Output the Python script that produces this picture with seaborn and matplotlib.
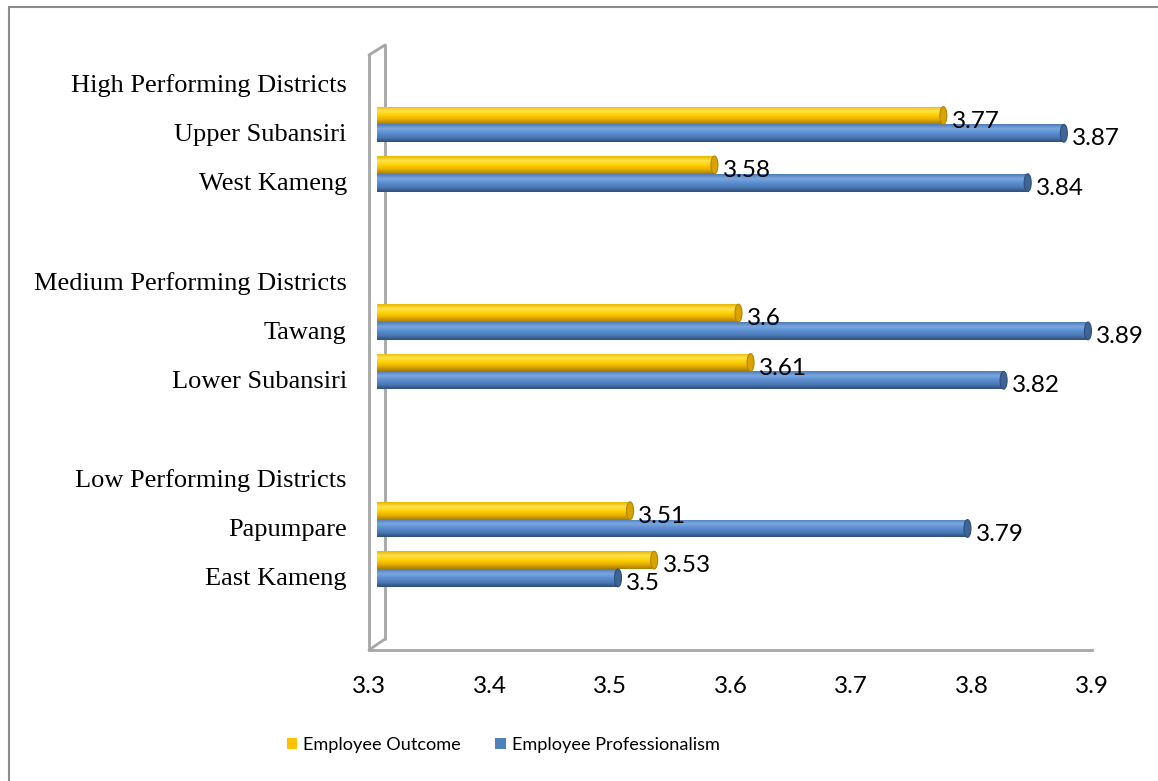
import numpy as np
import pandas as pd
import matplotlib
matplotlib.use("Agg")
import matplotlib.pyplot as plt
import seaborn as sns
from matplotlib.lines import Line2D
from matplotlib.patches import Patch, Ellipse, Rectangle
from matplotlib.colors import LinearSegmentedColormap

# ---------------- data ----------------
categories = ["High Performing Districts", "Upper Subansiri", "West Kameng", " ",
              "Medium Performing Districts", "Tawang", "Lower Subansiri", "  ",
              "Low Performing Districts", "Papumpare", "East Kameng"]
districts = ["Upper Subansiri", "West Kameng", "Tawang", "Lower Subansiri",
             "Papumpare", "East Kameng"]
outcome = [3.77, 3.58, 3.60, 3.61, 3.51, 3.53]
professionalism = [3.87, 3.84, 3.89, 3.82, 3.79, 3.50]
series = ["Employee Outcome", "Employee Professionalism"]
x_ticks = [3.3, 3.4, 3.5, 3.6, 3.7, 3.8, 3.9]

df = pd.DataFrame({
    "District": districts * 2,
    "Series": [series[0]] * len(districts) + [series[1]] * len(districts),
    "Score": outcome + professionalism,
})

# ---------------- style ----------------
sns.set_theme(style="white")
plt.rcParams["font.family"] = ["Lato", "DejaVu Sans"]
plt.rcParams["text.color"] = "black"
plt.rcParams["xtick.color"] = "black"
plt.rcParams["ytick.color"] = "black"

W, H = 1158, 781
fig = plt.figure(figsize=(W / 100, H / 100), dpi=100)

def fx(px):
    return px / W

def fy(py):
    return 1 - py / H

# bar plane axes (mid depth of 3-D plot)
bl, br, bt, bb = 377, 1100, 45, 642
ax = fig.add_axes([fx(bl), fy(bb), fx(br - bl), fy(bt) - fy(bb)])
# front plane axes (carries ticks, floor)
dx, dy = -8, 8
ax2 = fig.add_axes([fx(bl + dx), fy(bb + dy), fx(br - bl), fy(bt) - fy(bb)])
ax2.set_zorder(0)
ax.set_zorder(1)
ax.patch.set_alpha(0)
ax2.patch.set_alpha(0)

yellow = "#FFC000"
blue = "#4F81BD"

sns.barplot(data=df, y="District", x="Score", hue="Series", order=categories,
            hue_order=series, palette=[yellow, blue], orient="h", width=0.72,
            saturation=1, ax=ax, legend=False, errorbar=None)

ylim = ((bb - 75) / 49.4, (bt - 75) / 49.4)
xlim = (3.3, 3.9)
ax.set_xlim(*xlim)
ax.set_ylim(*ylim)

# cylinder shading
cmaps = {
    yellow: LinearSegmentedColormap.from_list("y", ["#E8B400", "#FFE24D", "#FFD200", "#E6AE00", "#A87E00"]),
    blue: LinearSegmentedColormap.from_list("b", ["#4E7CB8", "#7BA7E0", "#5A8DD0", "#4B78B4", "#2F4E7A"]),
}
grad = np.linspace(0, 1, 64).reshape(-1, 1)
bars = [p for p in ax.patches if p.get_width() > 0]
for p in bars:
    fc = matplotlib.colors.to_hex(p.get_facecolor())
    key = yellow if fc.lower() == yellow.lower() else blue
    x0, y0 = p.get_x(), p.get_y()
    w, h = p.get_width(), p.get_height()
    start = max(x0, xlim[0])
    im = ax.imshow(grad, extent=[start, x0 + w, y0 + h, y0], origin="upper",
                   aspect="auto", cmap=cmaps[key], zorder=2, interpolation="bilinear")
    im.set_clip_path(p)
    p.set_edgecolor("none")
    cap_w = (xlim[1] - xlim[0]) / (br - bl) * 7
    edge = "#B08500" if key == yellow else "#2F4E7A"
    capc = "#D9A400" if key == yellow else "#3F6597"
    ax.add_patch(Ellipse((x0 + w, y0 + h / 2), cap_w, h, facecolor=capc,
                         edgecolor=edge, lw=0.8, zorder=3))
ax.set_xlim(*xlim)
ax.set_ylim(*ylim)

# value labels
for cont in ax.containers:
    anns = ax.bar_label(cont, labels=[f"{v:g}" for v in cont.datavalues],
                        padding=7, fontsize=17.5, color="black", family=["Lato"])
    for a in anns:
        a.xyann = (6, -4)

ax.set_xticks([])
ax.set_yticks([])
ax.set_xlabel("")
ax.set_ylabel("")
for s in ax.spines.values():
    s.set_visible(False)

# front plane: ticks & floor
ax2.set_xlim(*xlim)
ax2.set_ylim(*ylim)
ax2.set_xticks(x_ticks)
ax2.set_xticklabels([f"{t:g}" for t in x_ticks], fontsize=17.5, family=["Lato"],
                    color="black")
ax2.set_yticks(range(len(categories)))
ax2.set_yticklabels(categories, fontsize=19, family=["Liberation Serif"], color="black")
ax2.tick_params(axis="x", length=0, pad=19)
ax2.tick_params(axis="y", length=0, pad=16)
for s in ["top", "right", "left"]:
    ax2.spines[s].set_visible(False)
ax2.spines["bottom"].set_color("#A6A6A6")
ax2.spines["bottom"].set_linewidth(2)

# 3-D wall outline
wall_c = "#A6A6A6"
wall = [((369, 55), (369, 650)), ((369, 55), (385, 45)), ((385, 45), (385, 639)),
        ((385, 639), (369, 650))]
for (a, b) in wall:
    fig.add_artist(Line2D([fx(a[0]), fx(b[0])], [fy(a[1]), fy(b[1])],
                          color=wall_c, lw=2, zorder=0, transform=fig.transFigure))

# outer border
fig.add_artist(Rectangle((fx(9), fy(800)), 1.2, fy(7) - fy(800), fill=False,
                         edgecolor="#8C8C8C", lw=1.5, transform=fig.transFigure))

# legend
handles = [Patch(facecolor=yellow, edgecolor="none", label=series[0]),
           Patch(facecolor=blue, edgecolor="none", label=series[1])]
fig.legend(handles=handles, loc="center", bbox_to_anchor=(fx(503), fy(745)), ncol=2,
           frameon=False, handlelength=0.6, handleheight=0.6,
           handletextpad=0.3, columnspacing=1.9, labelcolor="black",
           prop={"family": "Lato", "size": 13.1})

fig.savefig("out.png", dpi=100)
